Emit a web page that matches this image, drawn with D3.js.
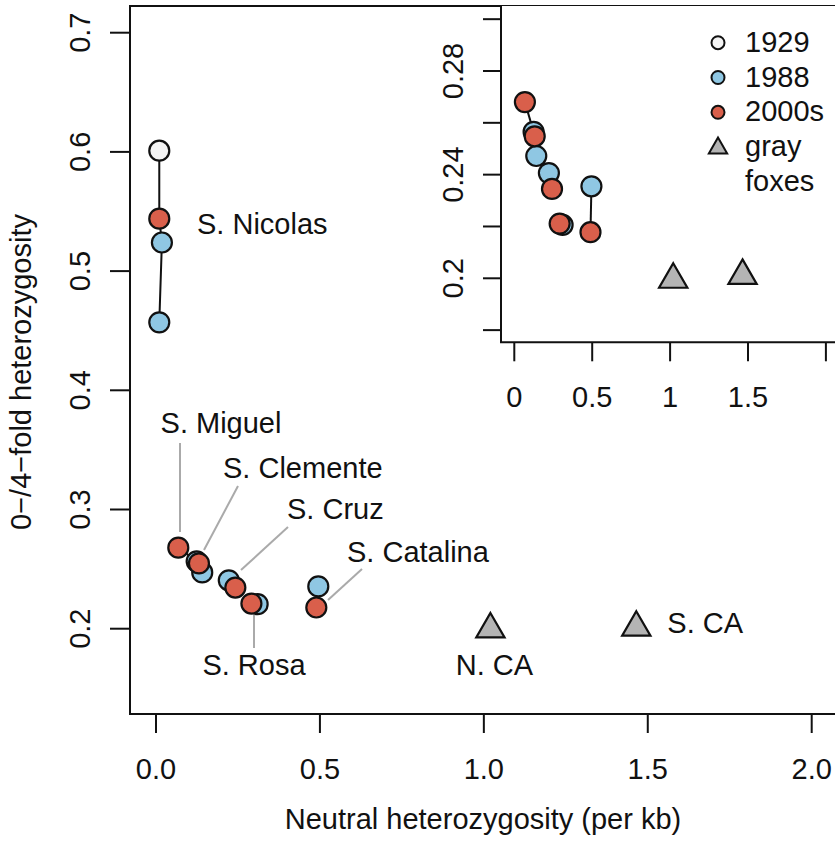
<!DOCTYPE html>
<html lang="en">
<head>
<meta charset="UTF-8">
<title>Heterozygosity of island foxes</title>
<script src="https://d3js.org/d3.v7.min.js"></script>
<style>
  body { margin: 0; background: #fff; }
  text { font-family: "Liberation Sans", Arial, Helvetica, sans-serif; font-size: 29px; fill: #111; }
</style>
</head>
<body>
<script>
// ---- data ----
var islands = ["S. Nicolas", "S. Miguel", "S. Clemente", "S. Cruz", "S. Rosa", "S. Catalina"];

var samples1929 = [
  {island: "S. Nicolas", x: 0.010, y: 0.601}
];
var samples1988 = [
  {island: "S. Nicolas", x: 0.018, y: 0.524},
  {island: "S. Nicolas", x: 0.010, y: 0.457},
  {island: "S. Miguel", x: 0.124, y: 0.2565},
  {island: "S. Clemente", x: 0.141, y: 0.2472},
  {island: "S. Cruz", x: 0.222, y: 0.2406},
  {island: "S. Rosa", x: 0.310, y: 0.2206},
  {island: "S. Catalina", x: 0.495, y: 0.2355}
];
var samples2000s = [
  {island: "S. Nicolas", x: 0.010, y: 0.544},
  {island: "S. Miguel", x: 0.068, y: 0.2680},
  {island: "S. Clemente", x: 0.131, y: 0.2548},
  {island: "S. Cruz", x: 0.242, y: 0.2345},
  {island: "S. Rosa", x: 0.291, y: 0.2211},
  {island: "S. Catalina", x: 0.489, y: 0.2178}
];
var grayFoxes = [
  {name: "N. CA", x: 1.020, y: 0.1995},
  {name: "S. CA", x: 1.465, y: 0.2010}
];

var mainXTicks = [0, 0.5, 1.0, 1.5, 2.0];
var mainYTicks = [0.2, 0.3, 0.4, 0.5, 0.6, 0.7];
var insetXTicks = [0, 0.5, 1, 1.5, 2];
var insetXLabels = ["0", "0.5", "1", "1.5", ""];
var insetYTicks = [0.18, 0.20, 0.22, 0.24, 0.26, 0.28, 0.30];
var insetYLabels = {"0.2": "0.2", "0.24": "0.24", "0.28": "0.28"};

var legendItems = [
  {label: ["1929"], fill: "#f4f4f4", shape: "circle"},
  {label: ["1988"], fill: "#8fc7e3", shape: "circle"},
  {label: ["2000s"], fill: "#d95f4b", shape: "circle"},
  {label: ["gray", "foxes"], fill: "#b4b4b4", shape: "triangle"}
];

// ---- setup ----
var width = 835, height = 844;
var colors = {"1929": "#f4f4f4", "1988": "#8fc7e3", "2000s": "#d95f4b", fox: "#b4b4b4"};

var svg = d3.select("body").append("svg")
  .attr("width", width)
  .attr("height", height);

var box = {left: 130, top: 6, bottom: 714, right: 840};
var x = d3.scaleLinear().domain([0, 2]).range([156, 811.7]);
var y = d3.scaleLinear().domain([0.2, 0.7]).range([628.7, 32.7]);

var inBox = {left: 501, top: 6, bottom: 342.3, right: 840};
var xi = d3.scaleLinear().domain([0, 2]).range([514.3, 825.9]);
var yi = d3.scaleLinear().domain([0.2, 0.28]).range([278.3, 71]);

function allPoints() {
  var pts = [];
  samples1929.forEach(function(d){ pts.push(d); });
  samples1988.forEach(function(d){ pts.push(d); });
  samples2000s.forEach(function(d){ pts.push(d); });
  return pts;
}

// triangle like R pch 24, centred on the point
function triangle(r) {
  var t0 = 1.5551 * r, t1 = 1.3468 * r, t2 = 0.7776 * r;
  return "M0," + (-t0) + "L" + t1 + "," + t2 + "L" + (-t1) + "," + t2 + "Z";
}

function drawPanel(g, sx, sy, r) {
  // connecting lines per island
  var line = d3.line().x(function(d){ return sx(d.x); }).y(function(d){ return sy(d.y); });
  var pts = allPoints();
  islands.forEach(function(name) {
    var grp = pts.filter(function(d){ return d.island === name; })
                 .sort(function(a, b){ return b.y - a.y; });
    if (grp.length > 1) {
      g.append("path").attr("d", line(grp))
        .attr("fill", "none").attr("stroke", "#111").attr("stroke-width", 2);
    }
  });

  var series = [["1929", samples1929], ["1988", samples1988], ["2000s", samples2000s]];
  series.forEach(function(s) {
    g.selectAll(null).data(s[1]).enter().append("circle")
      .attr("cx", function(d){ return sx(d.x); })
      .attr("cy", function(d){ return sy(d.y); })
      .attr("r", r)
      .attr("fill", colors[s[0]])
      .attr("stroke", "#111")
      .attr("stroke-width", 2.2);
  });

  g.selectAll(null).data(grayFoxes).enter().append("path")
    .attr("d", triangle(r * 1.05))
    .attr("transform", function(d){ return "translate(" + sx(d.x) + "," + sy(d.y) + ")"; })
    .attr("fill", colors.fox)
    .attr("stroke", "#111")
    .attr("stroke-width", 2.2);
}

// ---- main plot ----
var main = svg.append("g");

// x axis ticks
main.selectAll(".xt").data(mainXTicks).enter().append("line")
  .attr("x1", function(d){ return x(d); }).attr("x2", function(d){ return x(d); })
  .attr("y1", box.bottom).attr("y2", box.bottom + 19)
  .attr("stroke", "#111").attr("stroke-width", 2);
main.selectAll(".xl").data(mainXTicks).enter().append("text")
  .attr("x", function(d){ return x(d); })
  .attr("y", 779)
  .attr("text-anchor", "middle")
  .text(function(d){ return d3.format(".1f")(d); });

// y axis ticks
main.selectAll(".yt").data(mainYTicks).enter().append("line")
  .attr("x1", box.left - 20).attr("x2", box.left)
  .attr("y1", function(d){ return y(d); }).attr("y2", function(d){ return y(d); })
  .attr("stroke", "#111").attr("stroke-width", 2);
main.selectAll(".yl").data(mainYTicks).enter().append("text")
  .attr("transform", function(d){ return "translate(90," + y(d) + ") rotate(-90)"; })
  .attr("text-anchor", "middle")
  .text(function(d){ return d3.format(".1f")(d); });

// axis titles
main.append("text")
  .attr("x", 483).attr("y", 829)
  .attr("text-anchor", "middle")
  .text("Neutral heterozygosity (per kb)");
main.append("text")
  .attr("transform", "translate(31,372) rotate(-90)")
  .attr("text-anchor", "middle")
  .text("0\u2212/4\u2212fold heterozygosity");

// leader lines for island labels
var leaders = [
  {label: "S. Miguel", tx: 221, ty: 433, anchor: "middle", from: [180, 443], to: [180, 532]},
  {label: "S. Clemente", tx: 223, ty: 478, anchor: "start", from: [238, 486], to: [204, 550]},
  {label: "S. Cruz", tx: 287, ty: 519, anchor: "start", from: [288, 527], to: [241, 570]},
  {label: "S. Catalina", tx: 347, ty: 562, anchor: "start", from: [362, 569], to: [328, 600]},
  {label: "S. Rosa", tx: 254, ty: 675, anchor: "middle", from: [254, 615], to: [254, 648]}
];
main.selectAll(".ld").data(leaders).enter().append("line")
  .attr("x1", function(d){ return d.from[0]; }).attr("y1", function(d){ return d.from[1]; })
  .attr("x2", function(d){ return d.to[0]; }).attr("y2", function(d){ return d.to[1]; })
  .attr("stroke", "#aaaaaa").attr("stroke-width", 2);

drawPanel(main, x, y, 10);

main.selectAll(".lb").data(leaders).enter().append("text")
  .attr("x", function(d){ return d.tx; })
  .attr("y", function(d){ return d.ty; })
  .attr("text-anchor", function(d){ return d.anchor; })
  .text(function(d){ return d.label; });

main.append("text").attr("x", 197).attr("y", 234).text("S. Nicolas");
main.append("text").attr("x", x(grayFoxes[0].x) + 4).attr("y", 675)
  .attr("text-anchor", "middle").text(grayFoxes[0].name);
main.append("text").attr("x", x(grayFoxes[1].x) + 31).attr("y", 633)
  .text(grayFoxes[1].name);

main.append("path")
  .attr("d", "M" + box.right + "," + box.top + "H" + box.left + "V" + box.bottom + "H" + box.right)
  .attr("fill", "none").attr("stroke", "#111").attr("stroke-width", 2);

// ---- inset ----
var inset = svg.append("g");
inset.append("rect")
  .attr("x", inBox.left).attr("y", inBox.top)
  .attr("width", inBox.right - inBox.left).attr("height", inBox.bottom - inBox.top)
  .attr("fill", "#fff");

inset.selectAll(".ixt").data(insetXTicks).enter().append("line")
  .attr("x1", function(d){ return xi(d); }).attr("x2", function(d){ return xi(d); })
  .attr("y1", inBox.bottom).attr("y2", inBox.bottom + 19)
  .attr("stroke", "#111").attr("stroke-width", 2);
inset.selectAll(".ixl").data(insetXTicks).enter().append("text")
  .attr("x", function(d){ return xi(d); })
  .attr("y", 407)
  .attr("text-anchor", "middle")
  .text(function(d, i){ return insetXLabels[i]; });

inset.selectAll(".iyt").data(insetYTicks).enter().append("line")
  .attr("x1", inBox.left - 18).attr("x2", inBox.left)
  .attr("y1", function(d){ return yi(d); }).attr("y2", function(d){ return yi(d); })
  .attr("stroke", "#111").attr("stroke-width", 2);
inset.selectAll(".iyl").data(insetYTicks.filter(function(d){ return insetYLabels[String(+d.toFixed(2))]; }))
  .enter().append("text")
  .attr("transform", function(d){ return "translate(463," + yi(d) + ") rotate(-90)"; })
  .attr("text-anchor", "middle")
  .text(function(d){ return insetYLabels[String(+d.toFixed(2))]; });

svg.append("clipPath").attr("id", "inclip").append("rect")
  .attr("x", inBox.left).attr("y", inBox.top)
  .attr("width", inBox.right - inBox.left).attr("height", inBox.bottom - inBox.top);
var insetPlot = inset.append("g").attr("clip-path", "url(#inclip)");
drawPanel(insetPlot, xi, yi, 10);

// legend
var lg = inset.append("g");
legendItems.forEach(function(d, i) {
  var cy = 42.7 + i * 34.8;
  if (d.shape === "circle") {
    lg.append("circle").attr("cx", 718).attr("cy", cy).attr("r", 6.5)
      .attr("fill", d.fill).attr("stroke", "#111").attr("stroke-width", 2);
  } else {
    lg.append("path").attr("d", triangle(6.8))
      .attr("transform", "translate(718," + (cy + 1) + ")")
      .attr("fill", d.fill).attr("stroke", "#111").attr("stroke-width", 2);
  }
  d.label.forEach(function(t, j) {
    lg.append("text").attr("x", 745).attr("y", cy + 9 + j * 35).text(t);
  });
});

inset.append("path")
  .attr("d", "M" + inBox.left + "," + inBox.top + "V" + inBox.bottom + "H" + inBox.right)
  .attr("fill", "none").attr("stroke", "#111").attr("stroke-width", 2);
</script>
</body>
</html>
